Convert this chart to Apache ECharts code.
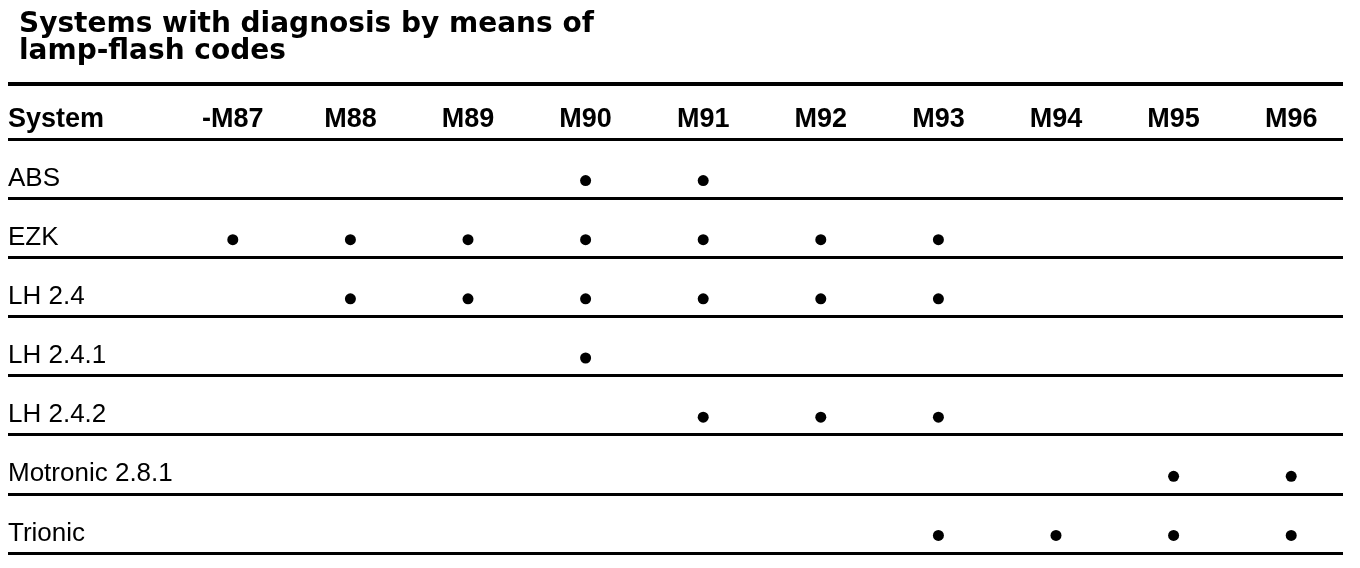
<!DOCTYPE html>
<html>
<head>
<meta charset="utf-8">
<title>Systems with diagnosis by means of lamp-flash codes</title>
<script src="https://cdn.jsdelivr.net/npm/echarts@6/dist/echarts.min.js"></script>
<style>
  html, body { margin: 0; padding: 0; background: #fff; }
  #main { width: 1360px; height: 568px; }
</style>
</head>
<body>
<div id="main"></div>
<script>
// table contents
const titleText = 'Systems with diagnosis by means of\nlamp-flash codes';
const headerLabel = 'System';
const models = ['-M87', 'M88', 'M89', 'M90', 'M91', 'M92', 'M93', 'M94', 'M95', 'M96'];
const systems = ['ABS', 'EZK', 'LH 2.4', 'LH 2.4.1', 'LH 2.4.2', 'Motronic 2.8.1', 'Trionic'];

// model years with a dot, one list per system
const abs = ['M90', 'M91'];
const ezk = ['-M87', 'M88', 'M89', 'M90', 'M91', 'M92', 'M93'];
const lh24 = ['M88', 'M89', 'M90', 'M91', 'M92', 'M93'];
const lh241 = ['M90'];
const lh242 = ['M91', 'M92', 'M93'];
const motronic281 = ['M95', 'M96'];
const trionic = ['M93', 'M94', 'M95', 'M96'];

const marks = [abs, ezk, lh24, lh241, lh242, motronic281, trionic];
const dots = [];
marks.forEach(function (list, i) {
  list.forEach(function (m) {
    dots.push([m, systems[i]]);
  });
});

const chart = echarts.init(document.getElementById('main'));

var option = {
  backgroundColor: '#ffffff',
  animation: false,
  title: {
    text: titleText,
    left: 14,
    top: 6,
    textStyle: {
      fontFamily: 'DejaVu Sans',
      fontWeight: 'bold',
      fontSize: 28,
      lineHeight: 27,
      color: '#000'
    }
  },
  graphic: [{
    // heavy rule under the title
    type: 'rect',
    left: 8,
    top: 82,
    shape: { width: 1335, height: 4 },
    style: { fill: '#000' }
  }],
  grid: [
    { left: 8, right: 17, top: 139, bottom: 15 },
    { left: 174, right: 10, top: 139, bottom: 15 }
  ],
  xAxis: [{
    gridIndex: 0,
    type: 'value',
    show: false
  }, {
    gridIndex: 1,
    type: 'category',
    position: 'top',
    data: models,
    axisLine: { show: false },
    axisTick: { show: false },
    splitLine: { show: false },
    axisLabel: {
      margin: 6,
      fontFamily: 'Liberation Sans',
      fontWeight: 'bold',
      fontSize: 27,
      color: '#000'
    }
  }],
  yAxis: [{
    gridIndex: 0,
    type: 'category',
    inverse: true,
    data: systems,
    name: headerLabel,
    nameLocation: 'start',
    nameGap: 6,
    nameTextStyle: {
      align: 'left',
      verticalAlign: 'bottom',
      fontFamily: 'Liberation Sans',
      fontWeight: 'bold',
      fontSize: 27,
      color: '#000'
    },
    axisLine: { show: false },
    axisTick: { show: false },
    splitLine: {
      show: true,
      lineStyle: { color: '#000', width: 3 }
    },
    axisLabel: {
      inside: true,
      margin: 0,
      verticalAlign: 'top',
      lineHeight: 20,
      fontFamily: 'Liberation Sans',
      fontSize: 26,
      color: '#000'
    }
  }, {
    gridIndex: 1,
    type: 'category',
    inverse: true,
    data: systems,
    show: false
  }],
  series: [{
    type: 'scatter',
    xAxisIndex: 1,
    yAxisIndex: 1,
    data: dots,
    symbol: 'circle',
    symbolSize: 11,
    symbolOffset: [0, 12],
    itemStyle: { color: '#000', opacity: 1 }
  }]
};

chart.setOption(option);
</script>
</body>
</html>
